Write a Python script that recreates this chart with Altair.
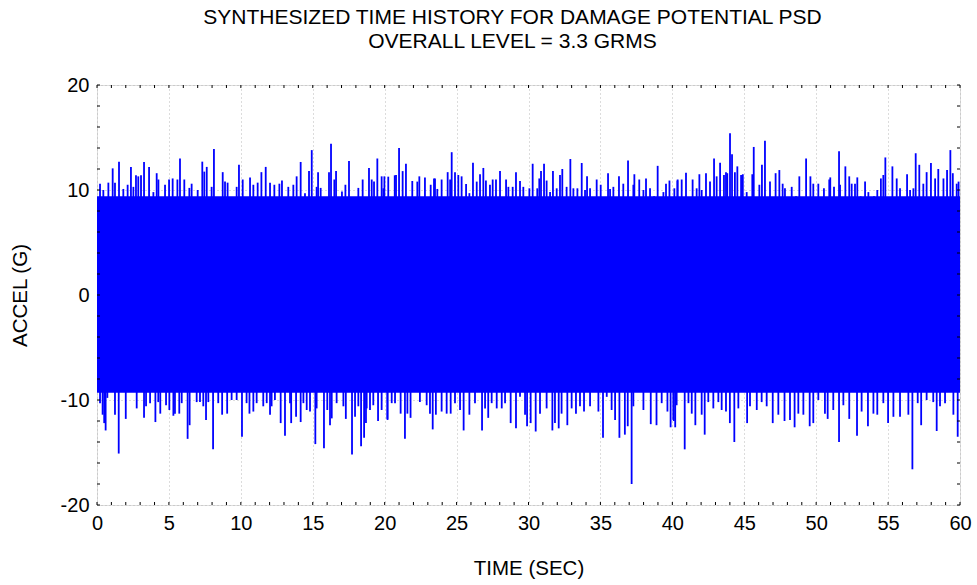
import altair as alt
import pandas as pd

# ---- data ----
# dense core of the random signal (G)
core_t = [0.0, 60.0]
core_hi = [9.4, 9.4]
core_lo = [-9.3, -9.3]

# upper excursions (time s, accel G)
up_t = [1.53, 1.09, 2.36, 3.27, 3.62, 4.15, 5.77, 7.32, 7.63, 8.13, 8.74, 9.87, 10.64, 11.73, 11.43,
        14.16, 14.74, 14.93, 15.37, 16.13, 16.27, 16.62, 17.52, 18.91, 19.49, 19.79,
        21.0, 21.25, 21.48, 20.7, 22.41, 23.43, 24.38, 24.66, 24.89, 25.35, 26.14, 26.63, 26.86,
        28.02, 29.13, 30.29, 31.08, 30.87, 31.7, 32.35, 32.91, 33.7, 34.07, 35.53, 36.29, 36.92,
        37.36, 37.7, 38.17, 38.98, 39.8, 40.37,
        40.95, 41.88, 42.34, 42.9, 43.32, 43.73, 44.01, 44.15, 44.35, 44.52, 44.9, 45.66, 45.56,
        46.23, 46.44, 47.18, 47.44, 48.83, 49.3, 49.6, 50.98, 51.59, 52.03, 52.3, 52.86, 53.4,
        54.5, 54.81, 55.3, 55.6, 56.32, 56.92, 57.17, 57.68, 57.98, 58.49, 59.1, 59.33, 59.5, 59.9,
        0.21, 0.44, 0.79, 1.25, 1.83, 2.13, 2.53, 2.71, 2.87, 3.06, 3.92, 4.27, 4.73, 5.01, 5.26,
        5.59, 6.07, 6.42, 6.58, 7.0, 7.46, 7.97, 8.9, 9.08, 9.71, 10.13, 10.87, 11.17, 12.03,
        12.33, 12.68, 12.86, 13.3, 13.65, 13.88, 14.46, 15.27, 15.55, 16.5, 17.03, 17.27, 18.17,
        18.47, 19.1, 19.26, 19.98,
        19.91, 20.25, 20.79, 21.92, 22.27, 22.8, 23.2, 23.5, 23.66, 23.96, 24.55, 25.12, 25.66,
        25.89, 26.4, 27.04, 27.32, 27.51, 27.74, 28.44, 28.6, 28.9, 29.41, 29.64, 30.06, 30.61,
        30.75, 31.26, 31.5, 31.96, 32.19, 32.65, 33.12, 33.4, 33.93, 34.28, 34.74, 35.02, 35.67,
        35.9, 36.59, 37.29, 37.99, 38.45, 38.73, 39.38, 39.56, 40.14,
        40.35, 40.65, 41.41, 41.69, 42.04, 42.62, 43.08, 43.59, 43.82, 44.78, 45.17, 46.05, 46.79,
        47.67, 47.83, 48.3, 48.6, 49.8, 50.15, 50.54, 50.91, 51.24, 51.66, 52.47, 52.7, 53.09,
        53.63, 54.02, 54.25, 54.67, 55.83, 56.53, 56.76, 57.45, 57.8, 58.27, 58.85, 59.77]
up_v = [12.7, 12.06, 12.2, 12.67, 12.2, 11.6, 13.0, 12.7, 12.2, 13.9, 11.7, 12.4, 11.2, 12.2, 11.7,
        12.67, 11.8, 13.8, 11.7, 11.7, 14.4, 11.8, 12.76, 12.1, 13.0, 11.3,
        14.0, 11.8, 12.5, 11.4, 11.3, 11.1, 11.7, 13.6, 11.7, 11.3, 12.6, 11.5, 12.1,
        11.8, 11.7, 12.5, 12.5, 11.8, 11.8, 12.0, 12.95, 12.57, 11.3, 11.6, 11.3, 12.8,
        11.5, 11.0, 11.1, 12.3, 10.9, 11.0,
        11.65, 11.5, 11.6, 13.0, 12.6, 11.7, 15.4, 13.4, 11.7, 12.25, 11.5, 14.1, 11.5,
        12.4, 14.7, 11.6, 11.9, 11.3, 13.0, 11.3, 11.2, 13.7, 12.25, 11.3, 11.2, 10.8,
        11.1, 13.1, 12.25, 11.1, 11.5, 13.5, 12.4, 11.7, 12.57, 12.0, 11.9, 13.8, 11.6, 10.8,
        10.6, 10.0, 10.7, 10.7, 10.1, 10.5, 10.3, 11.4, 11.3, 11.4, 9.8, 11.0, 10.5, 11.0, 11.1,
        11.0, 11.0, 10.2, 10.6, 10.0, 11.75, 10.3, 10.8, 10.7, 10.3, 11.0, 10.5, 10.7, 10.7,
        10.5, 10.6, 10.9, 10.3, 10.5, 11.3, 9.7, 10.3, 10.2, 11.0, 9.85, 10.5, 10.2,
        11.0, 11.0, 10.8, 11.3,
        10.16, 11.27, 11.43, 10.86, 10.8, 11.2, 10.5, 11.1, 10.1, 11.0, 11.0, 11.43, 10.57,
        9.7, 10.8, 10.9, 10.5, 11.0, 11.0, 11.0, 10.3, 10.3, 10.86, 10.3, 10.16, 10.16,
        11.1, 10.9, 9.8, 10.16, 11.43, 10.3, 10.16, 10.16, 10.0, 10.16, 11.0, 10.5, 10.1,
        10.3, 10.6, 10.5, 10.0, 10.16, 9.4, 9.8, 10.6, 10.16,
        10.9, 11.0, 11.0, 10.16, 10.0, 10.8, 11.3, 11.43, 11.6, 11.43, 9.8, 10.5, 10.8,
        10.6, 10.16, 10.3, 9.4, 10.6, 10.6, 10.16, 11.0, 10.3, 10.5, 10.6, 10.6, 9.4,
        9.8, 9.4, 10.0, 11.43, 10.16, 10.0, 10.16, 10.6, 8.9, 11.1, 11.1, 10.6]

# lower excursions (time s, accel G)
lo_t = [0.6, 0.5, 1.51, 2.0, 3.27, 4.06, 4.4, 5.31, 6.3, 6.44, 7.58, 8.07, 8.7, 9.05, 10.08, 10.6,
        12.03, 12.77, 13.07, 13.5, 14.16, 15.18, 15.78, 16.2, 17.3, 17.73, 18.36, 18.57, 18.7,
        19.54, 20.2,
        20.19, 21.41, 21.8, 23.34, 23.56, 25.49, 26.77, 27.2, 28.76, 29.13, 29.9, 30.5, 31.66,
        32.1, 32.7, 35.18, 36.32, 36.7, 36.9, 37.17, 38.5, 38.9, 39.88, 40.1,
        40.2, 40.86, 41.6, 42.25, 44.0, 44.31, 45.2, 46.98, 47.8, 48.5, 49.55, 50.8, 51.59,
        52.3, 52.84, 53.6, 55.0, 56.69, 57.3, 58.38, 59.84,
        0.21, 0.39, 0.72, 1.25, 2.76, 3.41, 3.69, 4.26, 4.8, 5.03, 5.42, 5.72, 5.89, 6.93, 7.16,
        7.39, 7.74, 8.43, 9.36, 9.71, 10.4, 10.87, 11.1, 11.56, 11.8, 12.14, 12.37, 13.42, 13.84,
        14.35, 14.58, 14.81, 15.27, 16.01, 16.32, 16.66, 17.13, 17.94, 18.17, 18.75, 18.98,
        19.21, 19.79,
        20.49, 20.72, 21.11, 21.58, 22.45, 22.92, 23.15, 23.96, 24.31, 24.59, 24.89, 25.24,
        25.89, 26.28, 26.98, 27.44, 27.79, 28.14, 28.37, 29.41, 29.76, 30.15, 30.8, 31.26,
        31.84, 32.3, 33.0, 33.3, 33.58, 33.86, 34.28, 34.86, 35.44, 35.78, 36.02, 37.29, 37.99,
        39.26, 39.66,
        40.07, 40.3, 41.12, 41.35, 42.04, 42.5, 42.85, 43.2, 43.43, 43.73, 44.59, 45.4, 45.87,
        46.21, 46.56, 47.37, 48.18, 48.76, 49.11, 49.8, 50.15, 50.61, 51.19, 51.89, 53.16,
        53.98, 54.25, 54.67, 55.37, 55.83, 56.41, 57.06, 57.68, 58.14, 58.61, 58.96, 59.54]
lo_v = [-12.9, -12.2, -15.1, -11.8, -11.7, -12.1, -11.3, -11.5, -13.7, -12.4, -11.9, -14.7, -11.4,
        -11.3, -13.5, -11.3, -11.4, -12.2, -13.4, -12.2, -12.1, -14.2, -14.6, -12.4, -11.8,
        -15.2, -14.4, -13.6, -12.2, -12.0, -11.9,
        -11.8, -13.7, -11.7, -12.8, -11.4, -12.9, -12.9, -11.7, -12.2, -12.7, -12.5, -13.0,
        -12.9, -12.7, -12.4, -13.6, -13.6, -13.3, -12.5, -18.0, -12.3, -12.4, -12.6, -12.0,
        -12.6, -14.7, -12.4, -13.3, -12.2, -14.0, -12.2, -12.2, -12.0, -12.6, -12.5, -11.8,
        -14.0, -11.8, -13.4, -12.5, -12.2, -16.6, -12.4, -12.95, -13.5,
        -10.3, -11.4, -9.8, -11.4, -10.8, -10.6, -10.3, -10.2, -10.5, -10.95, -11.3, -11.3,
        -10.3, -10.2, -10.2, -10.6, -10.2, -10.3, -10.0, -10.0, -10.3, -11.1, -10.3, -10.6,
        -10.3, -10.6, -10.0, -10.3, -11.6, -10.3, -10.95, -11.1, -10.8, -10.95, -11.75, -10.3,
        -10.6, -11.6, -10.6, -10.8, -10.95, -10.5, -10.95,
        -10.3, -10.3, -11.3, -11.3, -10.2, -10.5, -11.3, -11.1, -11.3, -11.3, -10.3, -10.95,
        -11.4, -10.3, -10.8, -10.3, -10.8, -10.8, -10.3, -9.7, -11.4, -12.2, -11.3, -10.8,
        -12.2, -11.3, -10.8, -11.3, -10.6, -11.1, -10.6, -11.1, -9.7, -10.95, -11.9, -10.6,
        -10.95, -10.3, -11.1,
        -11.9, -10.5, -10.3, -11.3, -11.4, -10.2, -10.8, -10.2, -10.95, -11.1, -10.8, -10.6,
        -10.95, -10.2, -10.6, -11.4, -11.9, -11.3, -11.4, -12.2, -10.0, -11.3, -10.95, -10.5,
        -11.1, -11.3, -11.4, -10.3, -11.6, -11.6, -11.4, -10.3, -10.0, -10.2, -10.6, -10.3, -11.4]

x_major = [0, 5, 10, 15, 20, 25, 30, 35, 40, 45, 50, 55, 60]
y_major = [-20, -10, 0, 10, 20]

TITLE = ["SYNTHESIZED TIME HISTORY FOR DAMAGE POTENTIAL PSD", "OVERALL LEVEL = 3.3 GRMS"]
FONT = "Liberation Sans"
BLUE = "#0000FF"
W, H = 863, 420
LABEL_EXPR = "datum.value < 0 ? '-' + abs(datum.value) : '' + datum.value"

core_df = pd.DataFrame({"t": core_t, "hi": core_hi, "lo": core_lo})
spikes_df = pd.DataFrame({"t": up_t + lo_t, "v": up_v + lo_v})
xt_df = pd.DataFrame({"t": list(range(0, 61))})
yt_df = pd.DataFrame({"v": list(range(-20, 21, 2))})

xs = alt.Scale(domain=[0, 60], nice=False, zero=False)
ys = alt.Scale(domain=[-20, 20], nice=False, zero=False)

common = dict(grid=True, gridDash=[1, 3], gridColor="#b8b8b8", gridWidth=1, ticks=False,
              domain=False, labelFont=FONT, labelFontSize=20, labelColor="black",
              labelFlush=False, labelOverlap=False, labelExpr=LABEL_EXPR,
              titleFont=FONT, titleFontSize=20.5, titleFontWeight="normal", titleColor="black",
              titleBaseline="middle", titleAlign="center")
x_axis = alt.Axis(values=x_major, title="TIME (SEC)", labelPadding=8,
                  titleX=W / 2, titleY=63, **common)
y_axis = alt.Axis(values=y_major, title="ACCEL (G)", labelPadding=8,
                  titleX=-77, titleY=H / 2, titleAngle=-90, **common)

core = alt.Chart(core_df).mark_area(color=BLUE, opacity=1).encode(
    x=alt.X("t:Q", scale=xs, axis=x_axis),
    y=alt.Y("lo:Q", scale=ys, axis=y_axis),
    y2="hi:Q",
)

spikes = alt.Chart(spikes_df).mark_rule(color=BLUE, strokeWidth=1.8).encode(
    x=alt.X("t:Q", scale=xs),
    y=alt.Y("v:Q", scale=ys),
    y2=alt.datum(0),
)

tick_b = alt.Chart(xt_df).mark_rule(color="black", strokeWidth=1).encode(
    x=alt.X("t:Q", scale=xs), y=alt.value(H), y2=alt.value(H - 3))
tick_t = alt.Chart(xt_df).mark_rule(color="black", strokeWidth=1).encode(
    x=alt.X("t:Q", scale=xs), y=alt.value(0), y2=alt.value(3))
tick_l = alt.Chart(yt_df).mark_rule(color="black", strokeWidth=1).encode(
    y=alt.Y("v:Q", scale=ys), x=alt.value(0), x2=alt.value(3))
tick_r = alt.Chart(yt_df).mark_rule(color="black", strokeWidth=1).encode(
    y=alt.Y("v:Q", scale=ys), x=alt.value(W), x2=alt.value(W - 3))

chart = alt.layer(core, spikes, tick_b, tick_t, tick_l, tick_r).properties(
    width=W, height=H,
    title=alt.TitleParams(TITLE, font=FONT, fontSize=21, fontWeight="normal", color="black",
                          anchor="middle", offset=23, lineHeight=24, dx=-16),
    autosize=alt.AutoSizeParams(type="none"),
    padding={"left": 97, "top": 85, "right": 17, "bottom": 80},
).configure_view(stroke="black", strokeWidth=2).configure(background="white")

chart.save("out.html", embed_options={"renderer": "svg", "actions": False})
